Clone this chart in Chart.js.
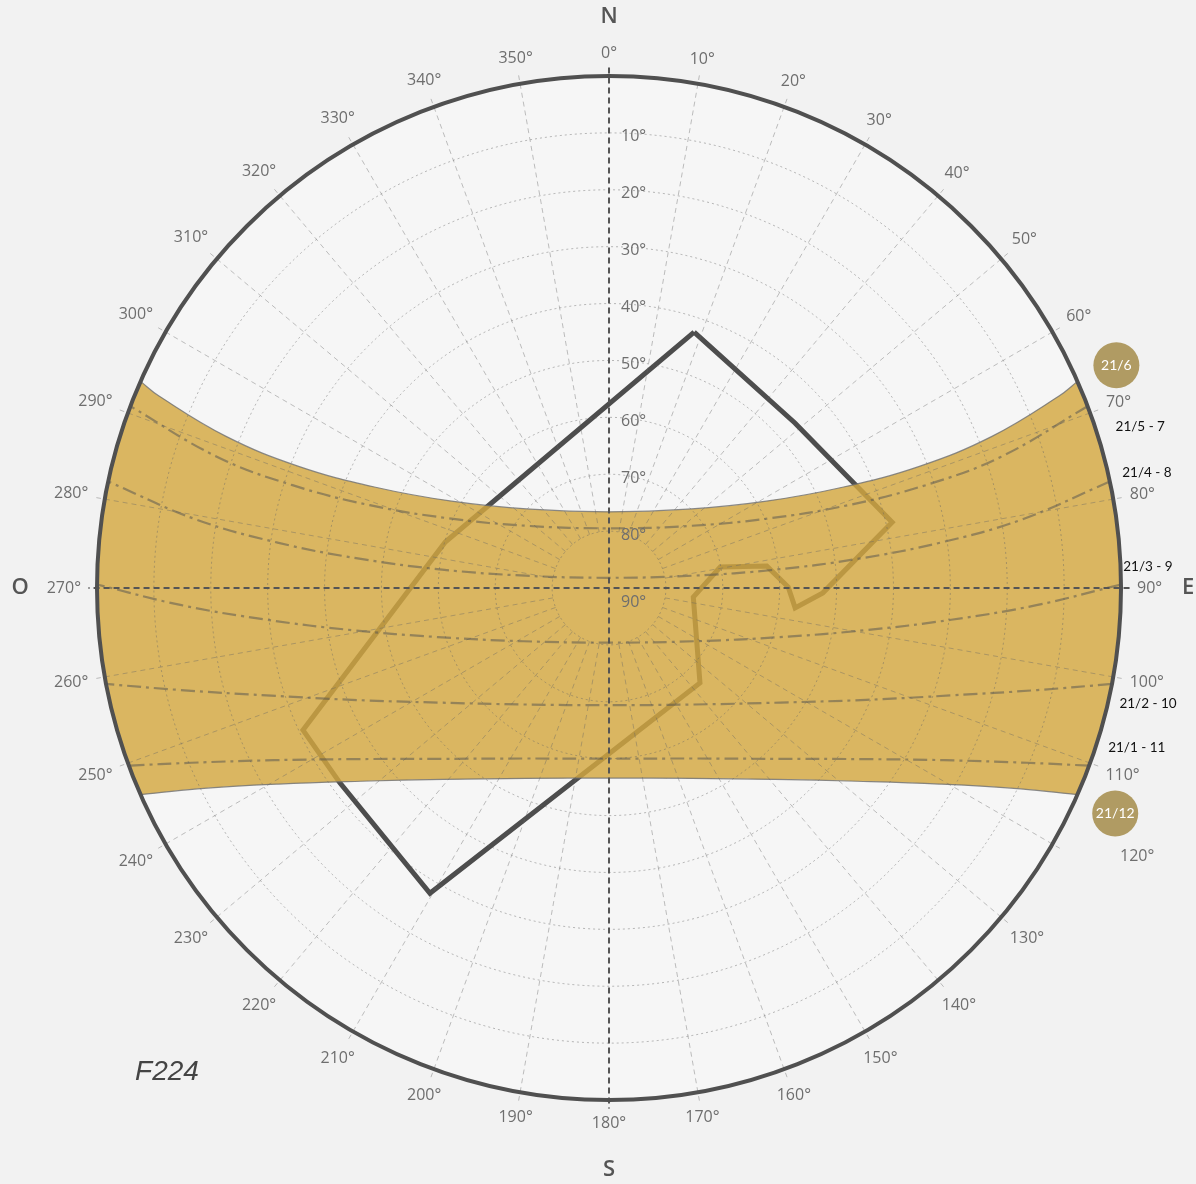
<!DOCTYPE html>
<html>
<head>
<meta charset="utf-8">
<title>F224</title>
<script src="https://cdn.jsdelivr.net/npm/chart.js@4.4.1/dist/chart.umd.min.js"></script>
<style>
html, body { margin: 0; padding: 0; background: #f2f2f2; }
</style>
</head>
<body>
<canvas id="sunChart" width="1196" height="1184"></canvas>
<script>
// grid
const azimuthTicks = [0,10,20,30,40,50,60,70,80,90,100,110,120,130,140,150,160,170,180,190,200,210,220,230,240,250,260,270,280,290,300,310,320,330,340,350];
const altitudeCircles = [10,20,30,40,50,60,70,80];
const altitudeTicks = [10,20,30,40,50,60,70,80,90];
const cardinalLetters = ["N","E","S","O"];
const cardinalAz = [0,90,180,270];

// solstices = edges of the band (azimuth from N, altitude), east -> west
const jun21Az  = [66.2,66.9,68.4,68.6,66.7,61.1,45.0,0,315.0,298.9,293.3,291.4,291.6,293.1,293.8];
const jun21Alt = [0,4.0,17.6,31.4,45.1,58.4,70.4,76.6,70.4,58.4,45.1,31.4,17.6,4.0,0];
const dec21Az  = [113.8,116.0,120.7,127.9,139.1,156.5,180,203.5,220.9,232.1,239.3,244.0,246.2];
const dec21Alt = [0,9.5,22.5,34.7,45.5,53.5,56.6,53.5,45.5,34.7,22.5,9.5,0];

// the other sun paths, east -> west
const pathNames = ["21/5 - 7","21/4 - 8","21/3 - 9","21/2 - 10","21/1 - 11"];
const may21Az  = [69.2,71.5,72.0,70.9,66.5,52.2,0,307.8,293.5,289.1,288.0,288.5,290.8];
const may21Alt = [0,17.4,31.5,45.5,59.3,72.2,79.5,72.2,59.3,45.5,31.5,17.4,0];
const apr21Az  = [78.0,80.6,82.2,83.3,83.7,81.6,0,278.4,276.3,276.7,277.8,279.4,282.0];
const apr21Alt = [0,16.6,31.2,45.8,60.5,75.2,88.2,75.2,60.5,45.8,31.2,16.6,0];
const mar21Az  = [89.6,92.3,95.3,99.3,106.0,121.9,180,238.1,254.0,260.7,264.7,267.7,270.4];
const mar21Alt = [0,14.8,29.6,44.2,58.7,72.3,80.4,72.3,58.7,44.2,29.6,14.8,0];
const feb21Az  = [100.8,103.4,107.4,113.5,123.8,143.7,180,216.3,236.2,246.5,252.6,256.6,259.2];
const feb21Alt = [0,12.6,26.9,40.7,53.8,64.6,69.4,64.6,53.8,40.7,26.9,12.6,0];
const jan21Az  = [110.3,112.7,117.2,124.2,135.5,153.8,180,206.2,224.5,235.8,242.8,247.3,249.7];
const jan21Alt = [0,10.4,23.8,36.5,47.9,56.6,60.0,56.6,47.9,36.5,23.8,10.4,0];

// horizon pieces closing the band
const horizonWestAz = [288,282,276,270,264,258,252];
const horizonEastAz = [108,102,96,90,84,78,72];

// obstruction outline
const maskAz  = [18.4,48.4,76.9,91.3,96.1,89.7,82.1,79.3,96.1,136.2,210.4,234.1,245.1,285.7,18.4];
const maskAlt = [42.6,46.3,38.9,52.4,57.1,58.5,62.0,70.1,75.1,66.9,27.8,31.6,30.7,60.1,42.6];

const solsticeNames = ["21/6","21/12"];
const solsticeAz = [66.3,114.0];

// label placement (style, not data)
const dateLabelAz = [73.1,77.9,87.7,102.1,106.8];
const dateLabelR = [97.6,96.7,94.8,96.9,96.9];
const cardinalR = [100.4,101.8,102.3,103.5];
const labelNudge = {120: [55,-5]};

function project(az, alt){
  const r = 90 - alt, a = az*Math.PI/180;
  return {x: r*Math.sin(a), y: r*Math.cos(a)};
}
function toPoints(azs, alts){
  return azs.map((a,i)=>project(a, alts[i]));
}

// band: 21/6, west horizon, 21/12 backwards, east horizon
// corners pushed twice so the curve stays sharp there
const junPts = toPoints(jun21Az, jun21Alt);
const decPts = toPoints(dec21Az, dec21Alt).reverse();
const bandPoints = [];
bandPoints.push(...junPts, junPts[junPts.length-1]);
horizonWestAz.forEach(a=>bandPoints.push(project(a,0)));
bandPoints.push(decPts[0], ...decPts, decPts[decPts.length-1]);
horizonEastAz.forEach(a=>bandPoints.push(project(a,0)));
bandPoints.push(junPts[0]);

const pathAz = [may21Az, apr21Az, mar21Az, feb21Az, jan21Az];
const pathAlt = [may21Alt, apr21Alt, mar21Alt, feb21Alt, jan21Alt];

const pathSets = pathNames.map((name,i)=>({
  label: name,
  data: toPoints(pathAz[i], pathAlt[i]),
  showLine: true,
  borderColor: "rgba(80,80,80,0.5)",
  borderWidth: 2.2,
  borderDash: [14,5,3,5],
  tension: 0.4,
  pointRadius: 0,
  fill: false,
  order: 2
}));

function geo(chart){
  const xs = chart.scales.x, ys = chart.scales.y;
  const cx = xs.getPixelForValue(0), cy = ys.getPixelForValue(0);
  const u = xs.getPixelForValue(1) - cx;
  const at = (az, r)=>{
    const p = project(az, 90 - r);
    return [xs.getPixelForValue(p.x), ys.getPixelForValue(p.y)];
  };
  return {cx, cy, u, at};
}

const sunGrid = {
  id: "sunGrid",
  beforeDraw(chart){
    const ctx = chart.ctx, g = geo(chart);
    ctx.save();
    ctx.fillStyle = "#f2f2f2";
    ctx.fillRect(0,0,chart.width,chart.height);
    ctx.fillStyle = "#f6f6f6";
    ctx.beginPath();
    ctx.arc(g.cx, g.cy, 90*g.u, 0, Math.PI*2);
    ctx.fill();
    ctx.restore();
  },
  afterDatasetDraw(chart, args){
    if(chart.data.datasets[args.index].label !== "band") return;
    const ctx = chart.ctx, g = geo(chart);
    ctx.save();
    ctx.strokeStyle = "rgba(100,100,100,0.45)";
    ctx.lineWidth = 1;
    ctx.setLineDash([2,3]);
    altitudeCircles.forEach(alt=>{
      ctx.beginPath();
      ctx.arc(g.cx, g.cy, (90-alt)*g.u, 0, Math.PI*2);
      ctx.stroke();
    });
    ctx.strokeStyle = "rgba(100,100,100,0.4)";
    ctx.setLineDash([5,4]);
    azimuthTicks.forEach(az=>{
      if(az % 90 === 0) return;
      const p1 = g.at(az,10), p2 = g.at(az,91.5);
      ctx.beginPath();
      ctx.moveTo(p1[0],p1[1]);
      ctx.lineTo(p2[0],p2[1]);
      ctx.stroke();
    });
    ctx.strokeStyle = "#555";
    ctx.lineWidth = 2;
    ctx.setLineDash([6,4]);
    [0,90].forEach(az=>{
      const p1 = g.at(az,91.5), p2 = g.at(az+180,91.5);
      ctx.beginPath();
      ctx.moveTo(p1[0],p1[1]);
      ctx.lineTo(p2[0],p2[1]);
      ctx.stroke();
    });
    ctx.restore();
  },
  afterDraw(chart){
    const ctx = chart.ctx, g = geo(chart);
    ctx.save();
    // horizon
    ctx.strokeStyle = "#505050";
    ctx.lineWidth = 4;
    ctx.beginPath();
    ctx.arc(g.cx, g.cy, 90*g.u, 0, Math.PI*2);
    ctx.stroke();

    ctx.textAlign = "center";
    ctx.textBaseline = "middle";

    // azimuth labels
    ctx.font = '16px "Open Sans"';
    ctx.fillStyle = "#6e6e6e";
    azimuthTicks.forEach(az=>{
      const txt = az + "°";
      const hw = ctx.measureText(txt).width/2, hh = 7;
      const a = az*Math.PI/180;
      const rp = 90*g.u + 16 + hw*Math.abs(Math.sin(a)) + hh*Math.abs(Math.cos(a));
      let x = g.cx + rp*Math.sin(a), y = g.cy - rp*Math.cos(a);
      const n = labelNudge[az];
      if(n){ x += n[0]; y += n[1]; }
      ctx.fillText(txt, x, y);
    });

    // altitude labels on the N axis
    ctx.textAlign = "left";
    altitudeTicks.forEach(alt=>{
      const y = g.cy - (90-alt)*g.u + (alt === 90 ? 14 : 4);
      ctx.fillText(alt + "°", g.cx + 12, y);
    });

    // cardinal points
    ctx.textAlign = "center";
    ctx.font = '600 22px "Open Sans"';
    ctx.fillStyle = "#555";
    cardinalLetters.forEach((t,i)=>{
      const p = g.at(cardinalAz[i], cardinalR[i]);
      ctx.fillText(t, p[0], p[1]);
    });

    // date labels
    ctx.font = '13.5px Lato';
    ctx.fillStyle = "#111";
    pathNames.forEach((t,i)=>{
      const p = g.at(dateLabelAz[i], dateLabelR[i]);
      ctx.fillText(t, p[0], p[1]);
    });

    // solstice markers text
    ctx.font = '14px Lato';
    ctx.fillStyle = "#fff";
    solsticeNames.forEach((t,i)=>{
      const p = g.at(solsticeAz[i], 97.4);
      ctx.fillText(t, p[0], p[1]);
    });

    // plate name
    ctx.font = 'italic 28px "Liberation Sans"';
    ctx.fillStyle = "#444";
    ctx.fillText("F224", chart.scales.x.getPixelForValue(-77.7), chart.scales.y.getPixelForValue(-85.1));
    ctx.restore();
  }
};

new Chart(document.getElementById("sunChart"), {
  type: "scatter",
  data: {
    datasets: [
      {
        label: "markers",
        data: solsticeAz.map(a=>project(a,-7.4)),
        pointRadius: 23,
        pointBackgroundColor: "#b09b63",
        pointBorderWidth: 0,
        showLine: false,
        order: 1
      },
      ...pathSets,
      {
        label: "band",
        data: bandPoints,
        showLine: true,
        fill: "shape",
        backgroundColor: "rgba(211,167,63,0.82)",
        borderColor: "rgba(110,110,110,0.8)",
        borderWidth: 1.2,
        tension: 0.4,
        pointRadius: 0,
        order: 5
      },
      {
        label: "mask",
        data: toPoints(maskAz, maskAlt),
        showLine: true,
        borderColor: "#4d4d4d",
        borderWidth: 5,
        borderJoinStyle: "miter",
        tension: 0,
        pointRadius: 0,
        fill: false,
        order: 9
      }
    ]
  },
  options: {
    responsive: false,
    animation: false,
    events: [],
    layout: { padding: 0, autoPadding: false },
    scales: {
      x: { type: "linear", min: -107.05, max: 103.18, display: false },
      y: { type: "linear", min: -104.76, max: 103.36, display: false }
    },
    plugins: {
      legend: { display: false },
      tooltip: { enabled: false }
    }
  },
  plugins: [sunGrid]
});
</script>
</body>
</html>
